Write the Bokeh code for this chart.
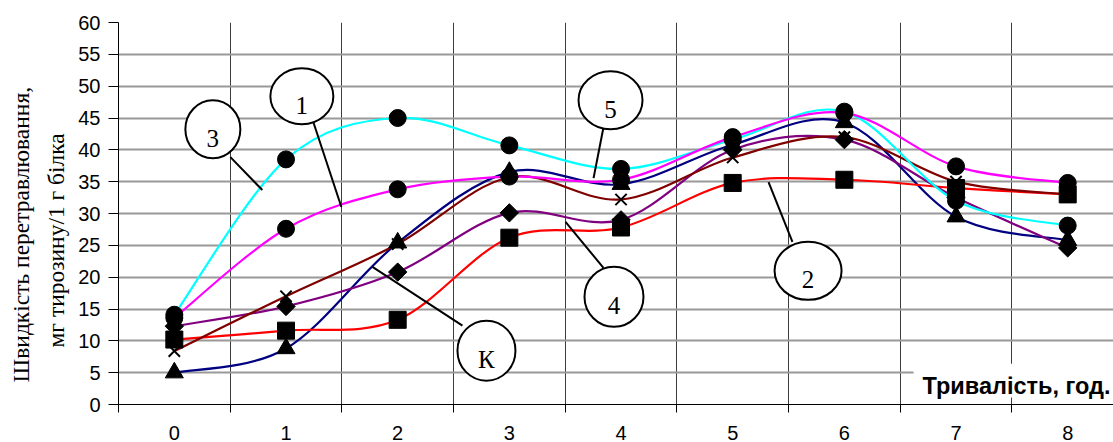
import numpy as np
from bokeh.plotting import figure
from bokeh.models import FixedTicker, Label, Range1d, Title
from bokeh.core.properties import value
from bokeh.embed import file_html
from bokeh.resources import INLINE

# ---------------- data ----------------
hours = [0, 1, 2, 3, 4, 5, 6, 7, 8]
hour_labels = ["0", "1", "2", "3", "4", "5", "6", "7", "8"]
y_ticks = [0, 5, 10, 15, 20, 25, 30, 35, 40, 45, 50, 55, 60]

series_K = [5.0, 8.8, 25.4, 36.5, 34.6, 40.8, 44.3, 29.5, 25.8]
series_1 = [13.6, 27.6, 33.8, 35.8, 35.3, 42.0, 45.8, 37.4, 34.8]
series_2 = [10.2, 11.6, 13.3, 26.2, 27.8, 34.8, 35.3, 34.0, 33.0]
series_3 = [14.1, 38.5, 45.0, 40.7, 37.0, 41.6, 46.0, 32.0, 28.1]
series_4 = [12.3, 15.4, 20.8, 30.1, 29.0, 40.0, 41.6, 32.5, 24.6]
series_5 = [8.4, 17.0, 25.2, 35.7, 32.2, 38.8, 42.0, 35.0, 33.0]

y_title_1 = "Швидкість перетравлювання,"
y_title_2 = "мг тирозину/1 г білка"
x_title = "Тривалість, год."

# callouts: text, ellipse centre (data), leader start/end (data)
callout_text = ["3", "1", "5", "4", "К", "2"]
callout_x = [0.345, 1.142, 3.906, 3.937, 2.795, 5.675]
callout_y = [43.24, 48.41, 47.78, 16.92, 8.46, 20.99]
callout_w = [55, 63, 64, 59, 58, 67]
callout_h = [58, 56, 58, 60, 60, 58]
leader_x0 = [0.502, 1.245, 3.843, 3.843, 2.580, 5.535]
leader_y0 = [38.85, 44.34, 43.55, 21.46, 12.38, 25.54]
leader_x1 = [0.788, 1.496, 3.754, 3.503, 1.774, 5.321]
leader_y1 = [33.68, 31.02, 35.56, 28.67, 21.62, 34.94]

# ---------------- figure ----------------
p = figure(width=1113, height=442,
           x_range=Range1d(-0.5, 8.41), y_range=Range1d(0, 60),
           output_backend="svg", toolbar_location=None,
           min_border_left=118, min_border_right=0,
           min_border_top=22, min_border_bottom=37)
p.outline_line_color = None
p.background_fill_color = "white"
p.border_fill_color = "white"

# x axis
p.xaxis.ticker = FixedTicker(ticks=hours,
                             minor_ticks=[h - 0.5 for h in hours] + [hours[-1] + 0.5])
p.xaxis.major_label_overrides = {h: s for h, s in zip(hours, hour_labels)}
p.xaxis.major_tick_out = 0
p.xaxis.major_tick_in = 0
p.xaxis.minor_tick_out = 8
p.xaxis.minor_tick_in = 0
p.xaxis.minor_tick_line_color = "black"
p.xaxis.axis_line_color = "black"
p.xaxis.major_label_standoff = 13
p.xaxis.major_label_text_font = "Liberation Sans"
p.xaxis.major_label_text_font_size = "20px"
p.xaxis.major_label_text_color = "black"

# y axis
p.yaxis.ticker = FixedTicker(ticks=y_ticks)
p.yaxis.major_tick_out = 10
p.yaxis.major_tick_in = 0
p.yaxis.minor_tick_out = 0
p.yaxis.minor_tick_in = 0
p.yaxis.major_tick_line_color = "black"
p.yaxis.axis_line_color = "black"
p.yaxis.major_label_standoff = 8
p.yaxis.major_label_text_font = "Liberation Sans"
p.yaxis.major_label_text_font_size = "20px"
p.yaxis.major_label_text_color = "black"

# y title as two stacked left titles (inner line first)
p.add_layout(Title(text=y_title_2, align="left", offset=57, standoff=13,
                   text_font="Liberation Serif", text_font_size="23.5px",
                   text_font_style="normal", text_color="black"), "left")
p.add_layout(Title(text=y_title_1, align="left", offset=22, standoff=2,
                   text_font="Liberation Serif", text_font_size="23.5px",
                   text_font_style="normal", text_color="black"), "left")

# grids
p.xgrid.ticker = FixedTicker(ticks=[h + 0.5 for h in hours[:-1]])
p.xgrid.grid_line_color = "#3c3c3c"
p.xgrid.grid_line_width = 1
p.ygrid.ticker = FixedTicker(ticks=y_ticks)
p.ygrid.grid_line_color = "#999999"
p.ygrid.grid_line_width = 2

# white box behind x title
p.quad(left=[6.62], right=[9.0], bottom=[1.1], top=[6.4],
       fill_color="white", line_color=None)


def smooth(xs, ys, t=1.0 / 6.0):
    xs = np.asarray(xs, float)
    ys = np.asarray(ys, float)
    n = len(xs)
    out = {k: [] for k in ("x0", "y0", "x1", "y1", "cx0", "cy0", "cx1", "cy1")}
    for i in range(n - 1):
        i0, i3 = max(i - 1, 0), min(i + 2, n - 1)
        out["x0"].append(xs[i]); out["y0"].append(ys[i])
        out["x1"].append(xs[i + 1]); out["y1"].append(ys[i + 1])
        out["cx0"].append(xs[i] + (xs[i + 1] - xs[i0]) * t)
        out["cy0"].append(ys[i] + (ys[i + 1] - ys[i0]) * t)
        out["cx1"].append(xs[i + 1] - (xs[i3] - xs[i]) * t)
        out["cy1"].append(ys[i + 1] - (ys[i3] - ys[i]) * t)
    return out


lines = [
    (series_K, "#000080"),
    (series_2, "#FF0000"),
    (series_4, "#800080"),
    (series_5, "#800000"),
    (series_3, "#00FFFF"),
    (series_1, "#FF00FF"),
]
for vals, col in lines:
    p.bezier(**smooth(hours, vals), line_color=col, line_width=2.2)

# markers
p.scatter(hours, series_K, marker="triangle", size=18, color="black")
p.scatter(hours, series_2, marker="square", size=17, color="black")
p.scatter(hours, series_4, marker="square", size=13, angle=np.pi / 4, color="black")
p.scatter(hours, series_5, marker="x", size=16, line_color="black", line_width=2)
p.scatter(hours, series_3, marker="circle", size=17, color="black")
p.scatter(hours, series_1, marker="circle", size=17, color="black")

# callouts
p.segment(x0=leader_x0, y0=leader_y0, x1=leader_x1, y1=leader_y1,
          line_color="black", line_width=2)
p.ellipse(x=callout_x, y=callout_y, width=callout_w, height=callout_h,
          width_units="screen", height_units="screen",
          fill_color="white", line_color="black", line_width=2)
p.text(x=callout_x, y=callout_y, text=callout_text, y_offset=9,
       text_align="center", text_baseline="alphabetic",
       text_font=value("Liberation Serif"), text_font_size="25px",
       text_color="black")

# x title
p.add_layout(Label(x=6.70, y=2.98, text=x_title,
                   text_align="left", text_baseline="alphabetic",
                   text_font="Liberation Sans", text_font_size="23.5px",
                   text_font_style="bold", text_color="black"))

open("out.html", "w").write(file_html(p, INLINE))
